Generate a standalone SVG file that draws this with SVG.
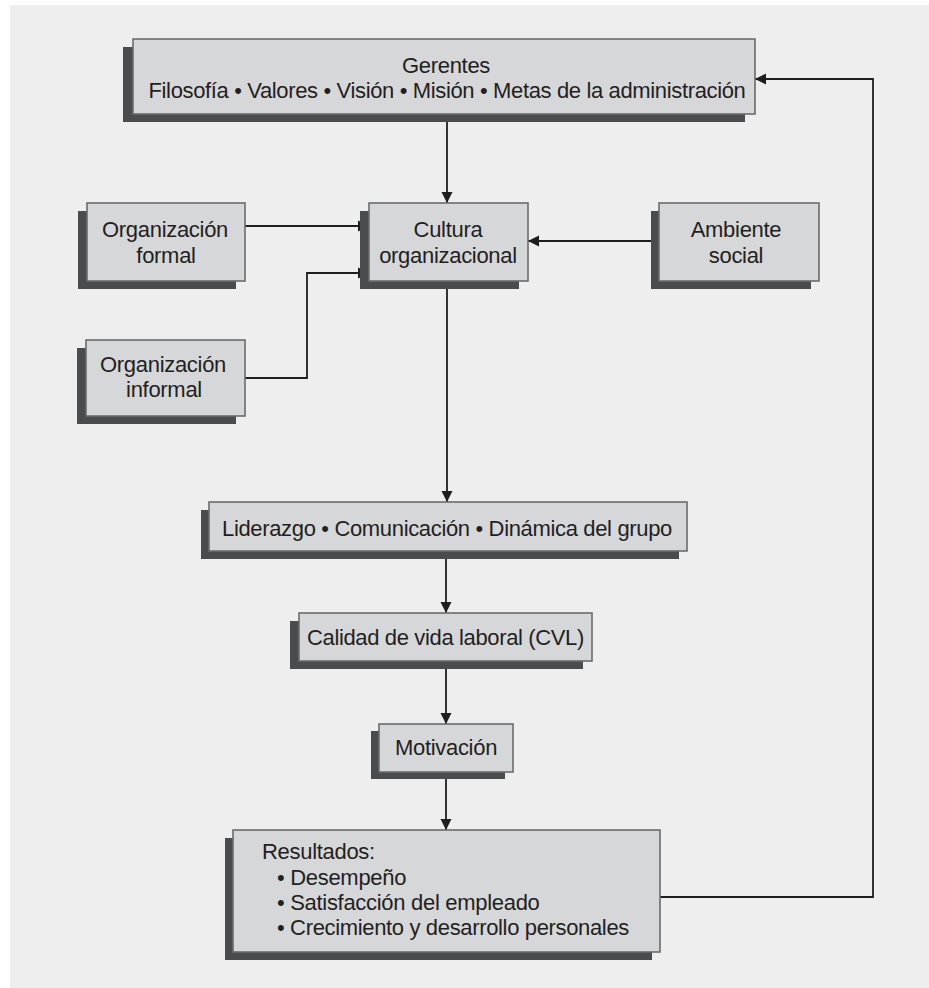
<svg xmlns="http://www.w3.org/2000/svg" width="929" height="988" viewBox="0 0 929 988">
  <defs>
    <marker id="arrow" markerUnits="userSpaceOnUse" markerWidth="12" markerHeight="12" refX="11" refY="6" orient="auto">
      <path d="M0,0.5 L11,6 L0,11.5 z" fill="#1e1e1e"/>
    </marker>
    <style>
      .shadow { fill: #4a4b4d; }
      .box { fill: #d6d7d9; stroke: #6b6b6b; stroke-width: 1.6; }
      .lbl { font-family: "Liberation Sans", Arial, sans-serif; font-size: 22px; fill: #231f20; letter-spacing: -0.3px; }
      .c { text-anchor: middle; }
      .wire { fill: none; stroke: #1e1e1e; stroke-width: 1.8; }
    </style>
  </defs>

  <!-- panel background -->
  <rect x="0" y="0" width="929" height="988" fill="#ffffff"/>
  <rect x="10" y="5" width="919" height="983" fill="#eeeeee"/>

  <!-- connectors -->
  <g id="connectors">
    <path class="wire" d="M447,114 V203" marker-end="url(#arrow)"/>
    <path class="wire" d="M245,226 H369" marker-end="url(#arrow)"/>
    <path class="wire" d="M245,378 H307 V273 H369" marker-end="url(#arrow)"/>
    <path class="wire" d="M659,241 H528" marker-end="url(#arrow)"/>
    <path class="wire" d="M447,281 V502" marker-end="url(#arrow)"/>
    <path class="wire" d="M446,551 V613" marker-end="url(#arrow)"/>
    <path class="wire" d="M446,661 V724" marker-end="url(#arrow)"/>
    <path class="wire" d="M446,772 V830" marker-end="url(#arrow)"/>
    <path class="wire" d="M660,897 H873 V79 H755" marker-end="url(#arrow)"/>
  </g>

  <!-- Gerentes -->
  <g id="gerentes">
    <rect class="shadow" x="123" y="47" width="622" height="75"/>
    <rect class="box" x="133" y="39" width="622" height="75"/>
    <text class="lbl c" x="446" y="73">Gerentes</text>
    <text class="lbl c" x="447" y="98" textLength="597" lengthAdjust="spacing">Filosofía • Valores • Visión • Misión • Metas de la administración</text>
  </g>

  <!-- Organización formal -->
  <g id="org-formal">
    <rect class="shadow" x="78" y="211" width="158" height="78"/>
    <rect class="box" x="87" y="203" width="158" height="78"/>
    <text class="lbl c" x="165" y="237">Organización</text>
    <text class="lbl c" x="166" y="263">formal</text>
  </g>

  <!-- Cultura organizacional -->
  <g id="cultura">
    <rect class="shadow" x="360" y="211" width="159" height="78"/>
    <rect class="box" x="369" y="203" width="159" height="78"/>
    <text class="lbl c" x="448" y="237">Cultura</text>
    <text class="lbl c" x="448" y="263">organizacional</text>
  </g>

  <!-- Ambiente social -->
  <g id="ambiente">
    <rect class="shadow" x="651" y="211" width="160" height="78"/>
    <rect class="box" x="659" y="203" width="160" height="78"/>
    <text class="lbl c" x="736" y="237">Ambiente</text>
    <text class="lbl c" x="736" y="263">social</text>
  </g>

  <!-- Organización informal -->
  <g id="org-informal">
    <rect class="shadow" x="77" y="348" width="159" height="76"/>
    <rect class="box" x="86" y="340" width="159" height="76"/>
    <text class="lbl c" x="163" y="372">Organización</text>
    <text class="lbl c" x="164" y="397">informal</text>
  </g>

  <!-- Liderazgo • Comunicación • Dinámica del grupo -->
  <g id="liderazgo">
    <rect class="shadow" x="201" y="510" width="478" height="49"/>
    <rect class="box" x="209" y="502" width="478" height="49"/>
    <text class="lbl" x="222" y="536" textLength="450" lengthAdjust="spacing">Liderazgo • Comunicación • Dinámica del grupo</text>
  </g>

  <!-- Calidad de vida laboral -->
  <g id="cvl">
    <rect class="shadow" x="290" y="621" width="293" height="48"/>
    <rect class="box" x="299" y="613" width="293" height="48"/>
    <text class="lbl" x="307" y="645" textLength="277" lengthAdjust="spacing">Calidad de vida laboral (CVL)</text>
  </g>

  <!-- Motivación -->
  <g id="motivacion">
    <rect class="shadow" x="371" y="731" width="134" height="48"/>
    <rect class="box" x="379" y="724" width="134" height="48"/>
    <text class="lbl c" x="446" y="755">Motivación</text>
  </g>

  <!-- Resultados -->
  <g id="resultados">
    <rect class="shadow" x="225" y="838" width="427" height="122"/>
    <rect class="box" x="233" y="830" width="427" height="122"/>
    <text class="lbl" x="262" y="859">Resultados:</text>
    <text class="lbl" x="277" y="885">• Desempeño</text>
    <text class="lbl" x="277" y="910">• Satisfacción del empleado</text>
    <text class="lbl" x="277" y="935" textLength="352" lengthAdjust="spacing">• Crecimiento y desarrollo personales</text>
  </g>
</svg>
